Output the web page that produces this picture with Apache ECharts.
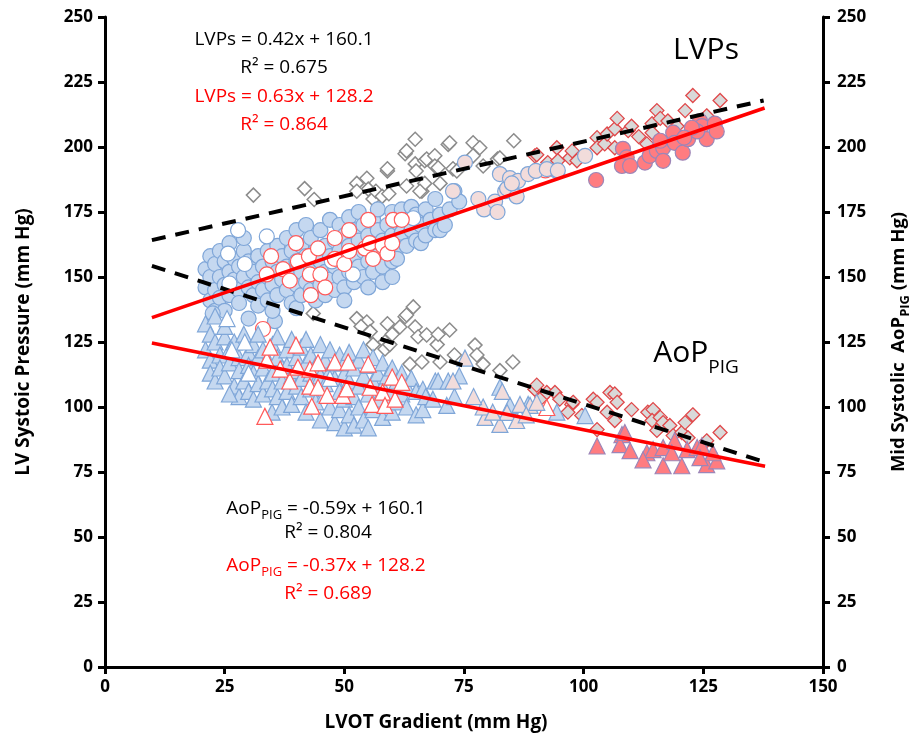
<!DOCTYPE html>
<html>
<head>
<meta charset="utf-8">
<script src="https://cdn.jsdelivr.net/npm/echarts@6/dist/echarts.min.js"></script>
<style>
  html, body { margin: 0; padding: 0; background: #fff; }
  #chart { width: 920px; height: 743px; }
</style>
</head>
<body>
<div id="chart"></div>
<script>
// LVPs group (circles / diamonds): [gradient, pressure]
const lvpsBlue = [
  [21,153],[21,146],[22,158],[22,141],[22,150],[23,155],[23,137],[23,145],[24,160],[24,150],[24,142],[25,156],[25,147],[25,137],[26,152],[26,163],[26,143],[27,157],[27,149],[28,145],[28,154],[28,140],[29,160],[29,150],[30,146],[30,156],[30,134],[29,165],[22.5,136],[35.5,133],
  [31,152],[31,143],[32,158],[32,148],[32,139],[33,154],[33,145],[34,160],[34,150],[34,141],[35,156],[35,147],[35,137],[36,152],[36,162],[36,143],[37,158],[37,149],[38,154],[38,145],[38,165],[39,160],[39,150],[39,140],[40,156],[40,147],[40,168],[40,138],
  [41,152],[41,162],[41,143],[42,158],[42,148],[42,170],[43,154],[43,145],[43,165],[44,160],[44,150],[44,141],[45,156],[45,147],[45,168],[46,162],[46,152],[46,143],[47,158],[47,149],[47,172],[48,164],[48,154],[48,145],[49,160],[49,150],[49,170],[50,166],[50,156],[50,146],[50,141],
  [51,162],[51,152],[51,173],[52,168],[52,158],[52,148],[53,164],[53,154],[53,175],[54,170],[54,160],[54,150],[55,166],[55,156],[55,146],[56,172],[56,162],[56,152],[57,168],[57,158],[57,176],[58,164],[58,154],[58,148],[59,170],[59,160],[60,166],[60,175],[60,156],[60,150],
  [61,171],[61,161],[61,157],[62,176],[62,167],[63,172],[63,162],[64,168],[64,177],[65,164],[65,174],[66,170],[66,163],[67,176],[67,166],[68,172],[69,168],[69,180],[70,174],[70,168],[71,170],[72,176],[73,183],[74,179]
];
const lvpsRedOpen = [
  [33,130],[33.8,151],[34.7,158],[37.2,153],[38.6,148.6],[39.9,163],[40.3,156],[42.6,158],[42.8,151],[43,143],[44.5,161],[45,151],[48,165],[48,157],[46,146],
  [50,155],[51,168],[51,160],[54.3,161],[55,172],[55.3,163],[56,157],[58,162],[59,159],[60,163],[60.2,172],[62,172],[92,191]
];
const lvpsBlueOpen = [[27.8,168],[33.8,165.6],[25.7,159],[29.2,155],[26,147.5],[47.4,156],[51.8,151],[64.4,172.6],[94.4,190.8]];
const lvpsPink = [
  [72.7,183],[75.2,194],[79.2,176],[81.5,179],[82,175],[82.5,189.6],[83.6,183],[84,184],[84.6,188],[86,181],[86.3,187],[88.4,189.6],[90,190.8],[92.3,191.5],[94.6,191],[100.3,196.6],[85,186],[78,180]
];
const lvpsSalmon = [
  [102.6,187.3],[108.2,199.3],[109,196],[108,192.7],[109.7,192.7],[112.8,194],[113.8,196.6],[115.3,198.5],[116.6,199.7],[116.6,194.7],[118.7,205.5],[119,201.6],
  [120.7,197.8],[121.8,203],[124.3,210],[124.7,208],[125.7,203],[127.4,209],[127.8,206],[123.7,206],[122.6,207.4],[121,203.6],[116,202.4]
];
const lvpsDiamond = [
  [31,181.5],[41.7,184],[43.7,179.8],[52.6,186],[54.7,188],[55,183.8],[56,180],[52.6,183],[56.6,183],[57.9,181],[59,190.8],[59.3,182],[62.7,197.4],[63,185],[63,198.5],
  [64.8,203],[64.8,193.5],[65,190.8],[66.2,183],[66.8,194.7],[66.8,186],[67.2,195.4],[68.9,196.6],[68.9,192.7],[69.6,192],[70,186],[71.7,201],[72,201.6],[72.7,191.6],
  [73.5,190.8],[76.9,201.6],[76.9,196.6],[78.3,199.7],[79,192.7],[82,195.4],[82.5,195.8],[85.4,202.4],[59,191.6],[65.8,183]
];
const lvpsRedDiamond = [
  [89.8,196.6],[90.2,197],[92.5,194],[94.4,199.7],[94.6,194.7],[97.1,195.8],[97.6,198.5],[98.6,194.7],[102.8,203.6],[102.8,199.7],[104.4,201.2],[104.9,205],[106.5,207],[106.5,199.7],
  [107,211],[109.3,206.3],[110,208],[113.2,201.2],[114.3,209],[114.3,205.5],[115.3,214],[116,211],[117.6,210],[121.2,214],[122.8,219.8],[125.7,212],[128.5,217.9],[119.5,208],[111.5,204]
];

// AoP PIG group (triangles / diamonds)
const aopBlue = [
  [21,132],[21,122],[22,128],[22,118],[22,113],[23,125],[23,135],[23,110],[24,120],[24,115],[25,127],[25,112],[25,131],[26,122],[26,117],[27,108],[27,125],[28,119],[28,104],[28,114],[29,128],[29,110],[30,121],[30,116],[30,106],[26,105],
  [31,124],[31,113],[31,103],[32,119],[32,109],[32,128],[33,115],[33,105],[33,122],[34,118],[34,110],[34.9,98],[35,124],[35,113],[35,107],[36,119],[36,104],[36,127],[37,115],[37,110],[37,100],[38,122],[38,106],[38,116],[39,112],[39,101],[39,126],[40,119],[40,108],[40,114],
  [41,123],[41,104],[41,111],[42,117],[42,98],[42,126],[43,113],[43,107],[43,120],[44,116],[44,102],[44,110],[45,124],[45,95],[45,112],[46,118],[46,105],[46,109],[47,122],[47,100],[47,114],[48,111],[48,94],[48,117],[49,106],[49,120],[49,99],[50,113],[50,103],[50,92],[50,117],
  [51,110],[51,97],[51,121],[52,115],[52,104],[52,93],[53,118],[53,108],[53,100],[54,112],[54,95],[54,122],[55,116],[55,105],[55,92],[56,110],[56,99],[56,119],[57,113],[57,103],[58,108],[58,96],[58,117],[59,112],[59,101],[60,106],[60,98],[60,115],
  [61,110],[61,102],[62,113],[62,105],[63,108],[63,100],[64,111],[65,106],[65,97],[66.4,106.8],[66.4,99],[67,104],[68.5,103],[69,110],[69.6,110],[71.4,100.6],[71.7,110],[73,104],[74,112],[82.5,107.6],[84.6,100.6],[88.4,101],[94.4,98],[100.3,96.7]
];
const aopRedOpen = [
  [33.4,96.4],[33.8,118],[34.5,123],[36.6,114.6],[38.6,110],[39.9,123.8],[40.3,115.3],[42.8,114.6],[42.8,108],[43.2,100.3],[44.5,117],[44.5,107.6],[46.4,104.5],[48,117.3],
  [49.7,104.5],[50.8,117.3],[50.5,107],[55,116.5],[55.4,107.6],[55.8,101],[58,105.7],[58.5,100.6],[60,111.5],[60.6,103],[62,109.5],[92.3,99.8]
];
const aopBlueOpen = [[25.5,134],[29.2,125],[26.5,122],[30,113],[47,111]];
const aopPink = [
  [72.7,110],[75.2,118.8],[79.4,96],[82.5,93.3],[84,97.9],[86,94.8],[88.8,100.6],[90.2,101.8],[83,106],[86.7,101],[79,100],[81,98],[88,97],[77,104]
];
const aopSalmon = [
  [102.8,85],[108,89.4],[107.6,85.5],[109.7,83.2],[108.6,90.2],[113.2,82.4],[114.5,83.6],[116.6,84.4],[116.6,77.4],[119,87],[118.4,82.4],[120.5,77.4],[121.6,83.6],[123.7,84.4],
  [124.7,85.1],[125.7,77.8],[127.8,79.3],[127,82.4],[112.4,79.7],[124.3,80.5]
];
const aopDiamond = [
  [43.5,136],[52.6,134],[54.7,132.7],[55.4,129],[56,124],[58.5,125],[58.5,122.3],[59,132],[59.5,124],[61.6,130.8],[62.7,134.7],[63,135.4],[63.7,116.5],[64.4,138.5],[64.8,130.8],
  [65.4,127],[66.2,117.3],[67.2,127.7],[69.4,124],[69.6,128],[70,117.3],[72,129.6],[73,120],[77.3,123.8],[77.7,120],[79,116.5],[82.5,114],[85.2,117.3],[53.5,131],[60,128]
];
const aopRedDiamond = [
  [89.8,106.8],[90.2,108.4],[91.3,103.7],[92.3,105.6],[94,105.6],[95,103],[97.5,101],[97.8,101.8],[96.7,98],[99.6,96.7],[102,103],[102.8,101.8],[102.8,91.3],[104.9,98],[105.5,105.6],
  [106.5,105],[107,101.8],[110,99],[106.5,94.8],[113.4,98],[114.5,99],[114.3,94.8],[115.3,91],[116,96],[116.6,94],[118,92.9],[118.7,89],[120.5,90.2],[121.2,94],[122.8,97],[121.8,88.2],[125.7,87],[128.5,90.2]
];

// trend line end points
const lvpsFitAll = [[9.8,164.2],[137.6,217.9]];
const lvpsFitRed = [[9.8,134.4],[137.8,215.0]];
const aopFitAll = [[9.8,154.3],[137.2,79.2]];
const aopFitRed = [[9.8,124.6],[137.9,77.2]];

const FONT = '"Open Sans", sans-serif';
const chart = echarts.init(document.getElementById('chart'));

function pts(name, data, symbol, size, fill, border, bw) {
  return {
    name: name, type: 'scatter', yAxisIndex: 0, data: data,
    symbol: symbol, symbolSize: size,
    itemStyle: { color: fill, borderColor: border, borderWidth: bw || 1, opacity: 1 },
    emphasis: { disabled: true }, animation: false
  };
}
function fit(data, color, dashed) {
  return {
    type: 'line', data: data, showSymbol: false, z: 5, animation: false,
    lineStyle: { color: color, width: dashed ? 4 : 3.5, type: dashed ? [14, 10] : 'solid' }
  };
}

const axisCommon = {
  type: 'value', min: 0, max: 250, interval: 25,
  axisLine: { show: true, onZero: false, lineStyle: { color: '#000', width: 3 } },
  axisTick: { show: true, length: 7, lineStyle: { color: '#000', width: 3 } },
  axisLabel: { color: '#000', fontWeight: 'bold', fontSize: 17, fontFamily: FONT, margin: 12 },
  splitLine: { show: false },
  nameLocation: 'middle', nameRotate: 90
};

const subRich = {
  s: { fontSize: 13, fontWeight: 'bold', fontFamily: FONT, color: '#000', lineHeight: 13, verticalAlign: 'bottom' }
};

const option = {
  backgroundColor: '#fff',
  animation: false,
  grid: { left: 105, right: 97, top: 17, bottom: 76 },
  xAxis: {
    type: 'value', min: 0, max: 150, interval: 25,
    axisLine: { show: true, onZero: false, lineStyle: { color: '#000', width: 3 } },
    axisTick: { show: true, length: 7, lineStyle: { color: '#000', width: 3 } },
    axisLabel: { color: '#000', fontWeight: 'bold', fontSize: 17, fontFamily: FONT, margin: 12 },
    splitLine: { show: false },
    name: 'LVOT Gradient (mm Hg)', nameLocation: 'middle', nameGap: 46,
    nameTextStyle: { color: '#000', fontWeight: 'bold', fontSize: 19, fontFamily: FONT, padding: [0, 56, 0, 0] }
  },
  yAxis: [
    Object.assign({}, axisCommon, {
      position: 'left', name: 'LV Systoic Pressure (mm Hg)', nameGap: 72,
      nameTextStyle: { color: '#000', fontWeight: 'bold', fontSize: 19, fontFamily: FONT }
    }),
    Object.assign({}, axisCommon, {
      position: 'right', name: 'Mid Systolic  AoP{s|PIG} (mm Hg)', nameGap: 63,
      axisLabel: Object.assign({}, axisCommon.axisLabel, { margin: 14 }),
      nameTextStyle: { color: '#000', fontWeight: 'bold', fontSize: 18.5, fontFamily: FONT, lineHeight: 26, rich: subRich }
    })
  ],
  graphic: [
    txt(284, 40, 'LVPs = 0.42x + 160.1', '#000'),
    txt(284, 68, 'R² = 0.675', '#000'),
    txt(284, 97, 'LVPs = 0.63x + 128.2', '#ff0000'),
    txt(284, 125, 'R² = 0.864', '#ff0000'),
    txt(326, 509, '{m|AoP}{s|PIG}{m| = -0.59x + 160.1}', '#000', true),
    txt(328, 533, 'R² = 0.804', '#000'),
    txt(326, 566, '{m|AoP}{s|PIG}{m| = -0.37x + 128.2}', '#ff0000', true),
    txt(328, 594, 'R² = 0.689', '#ff0000'),
    { type: 'text', x: 706, y: 50, z: 10,
      style: { text: 'LVPs', fill: '#000', font: '30px ' + FONT, align: 'center', verticalAlign: 'middle' } },
    { type: 'text', x: 696, y: 353, z: 10,
      style: {
        text: '{b|AoP}{bs|PIG}', align: 'center', verticalAlign: 'middle',
        rich: {
          b: { fontSize: 30, fontFamily: FONT, color: '#000', lineHeight: 48 },
          bs: { fontSize: 19, fontFamily: FONT, color: '#000', lineHeight: 19, verticalAlign: 'bottom' }
        }
      } }
  ],
  series: [
    pts('lvpsDiamond', lvpsDiamond, 'diamond', 14, '#fff', '#8c8c8c', 1.5),
    pts('aopDiamond', aopDiamond, 'diamond', 14, '#fff', '#8c8c8c', 1.5),
    pts('lvpsRedDiamond', lvpsRedDiamond, 'diamond', 14, '#d9d9d9', '#e0484a', 1.3),
    pts('aopRedDiamond', aopRedDiamond, 'diamond', 14, '#d9d9d9', '#e0484a', 1.3),
    pts('lvpsBlue', lvpsBlue, 'circle', 15, '#c5d8f0', '#7fa6d8', 1.2),
    pts('lvpsBlueOpen', lvpsBlueOpen, 'circle', 15, '#fff', '#7fa6d8', 1.2),
    pts('lvpsRedOpen', lvpsRedOpen, 'circle', 15, '#fff', '#ff5a5a', 1.2),
    pts('lvpsPink', lvpsPink, 'circle', 15, '#f2dcdb', '#7fa6d8', 1.2),
    pts('lvpsSalmon', lvpsSalmon, 'circle', 15, '#ff7c80', '#9c86b8', 1.2),
    pts('aopBlue', aopBlue, 'triangle', 16, '#c5d8f0', '#7fa6d8', 1.2),
    pts('aopBlueOpen', aopBlueOpen, 'triangle', 16, '#fff', '#7fa6d8', 1.2),
    pts('aopRedOpen', aopRedOpen, 'triangle', 16, '#fff', '#ff5a5a', 1.2),
    pts('aopPink', aopPink, 'triangle', 16, '#f2dcdb', '#7fa6d8', 1.2),
    pts('aopSalmon', aopSalmon, 'triangle', 16, '#ff7c80', '#9c86b8', 1.2),
    fit(lvpsFitAll, '#000', true),
    fit(aopFitAll, '#000', true),
    fit(lvpsFitRed, '#ff0000', false),
    fit(aopFitRed, '#ff0000', false)
  ]
};

function txt(x, y, text, color, rich) {
  const el = {
    type: 'text', x: x, y: y, z: 10,
    style: { text: text, fill: color, font: '19px ' + FONT, align: 'center', verticalAlign: 'middle' }
  };
  if (rich) {
    el.style.rich = {
      m: { fontSize: 19, fontFamily: FONT, color: color, lineHeight: 26 },
      s: { fontSize: 13, fontFamily: FONT, color: color, lineHeight: 13, verticalAlign: 'bottom' }
    };
  }
  return el;
}

chart.setOption(option);
</script>
</body>
</html>
